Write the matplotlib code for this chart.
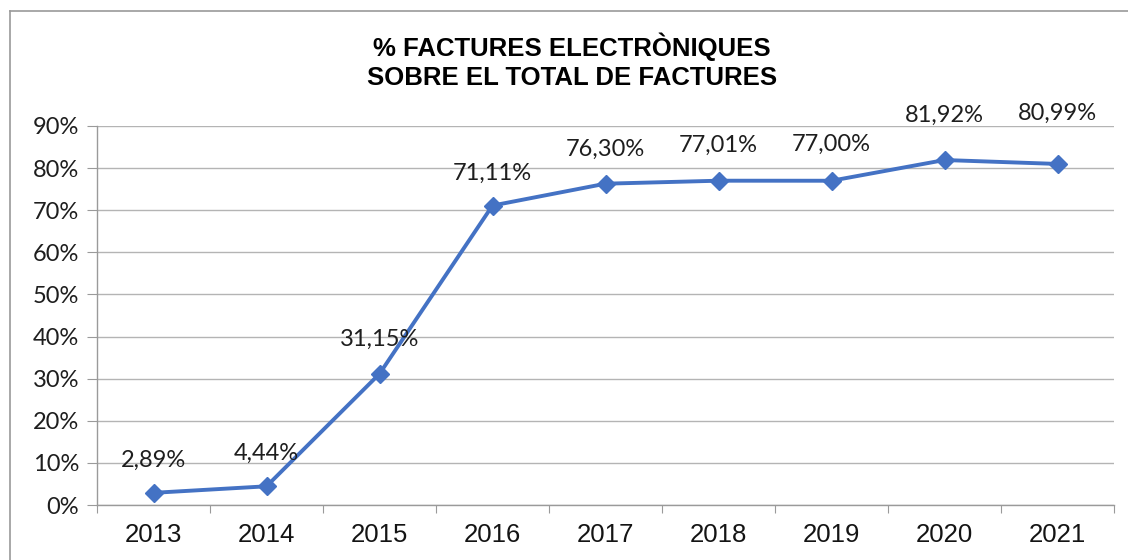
import matplotlib
matplotlib.use("Agg")
import matplotlib.pyplot as plt
from matplotlib.lines import Line2D
from matplotlib.ticker import FixedLocator, NullFormatter, FuncFormatter

years = ["2013", "2014", "2015", "2016", "2017", "2018", "2019", "2020", "2021"]
values = [2.89, 4.44, 31.15, 71.11, 76.30, 77.01, 77.00, 81.92, 80.99]
labels = ["2,89%", "4,44%", "31,15%", "71,11%", "76,30%", "77,01%", "77,00%", "81,92%", "80,99%"]
yticks = [0, 10, 20, 30, 40, 50, 60, 70, 80, 90]

W, H = 1128, 560
fig = plt.figure(figsize=(W / 100, H / 100), dpi=100)
fig.patch.set_facecolor("white")

# outer chart border (left + top visible)
fig.add_artist(Line2D([10 / W, 10 / W], [0, 1 - 11 / H], transform=fig.transFigure, color="#9a9a9a", lw=1.2))
fig.add_artist(Line2D([10 / W, 1], [1 - 11 / H, 1 - 11 / H], transform=fig.transFigure, color="#9a9a9a", lw=1.2))

left, right, top, bottom = 97, 1114, 126, 505
ax = fig.add_axes([left / W, 1 - bottom / H, (right - left) / W, (bottom - top) / H])

x = list(range(len(years)))
ax.plot(x, values, color="#4472C4", lw=2.8, marker="D", markersize=9, zorder=3)
# label offsets above each point (pixels), as placed in the original
label_offsets_px = [32, 33, 34, 32, 34, 35, 36, 45, 51]
for xi, v, lab, off in zip(x, values, labels, label_offsets_px):
    ax.annotate(lab, (xi, v), xytext=(0, off * 0.72), textcoords="offset points",
                ha="center", va="center", fontsize=17, family="Lato", color="#1e1e1e")

ax.set_xlim(-0.5, len(years) - 0.5)
ax.set_ylim(0, 90)
ax.set_yticks(yticks)
ax.yaxis.set_major_formatter(FuncFormatter(lambda v, p: f"{int(v)}%"))
ax.grid(axis="y", color="#b4b4b4", lw=1)
ax.set_axisbelow(True)

ax.xaxis.set_major_locator(FixedLocator([i - 0.5 for i in range(len(years) + 1)]))
ax.xaxis.set_major_formatter(NullFormatter())
ax.xaxis.set_minor_locator(FixedLocator(x))
ax.set_xticklabels(years, minor=True)
ax.tick_params(axis="x", which="major", length=6, color="#9a9a9a", direction="out")
ax.tick_params(axis="x", which="minor", length=0, pad=13, labelsize=18.5, labelcolor="#141414")
for t in ax.get_xticklabels(minor=True):
    t.set_family("Liberation Sans")
ax.tick_params(axis="y", length=7, color="#9a9a9a", pad=6, labelsize=17, labelcolor="#1e1e1e")
for t in ax.get_yticklabels():
    t.set_family("Lato")

for s in ["top", "right"]:
    ax.spines[s].set_visible(False)
for s in ["left", "bottom"]:
    ax.spines[s].set_color("#9a9a9a")
    ax.spines[s].set_linewidth(1)

fig.text(572 / W, 1 - 47 / H, "% FACTURES ELECTRÒNIQUES", ha="center", va="center",
         fontsize=18.5, fontweight="bold", family="Liberation Sans", color="#000000")
fig.text(572 / W, 1 - 78 / H, "SOBRE EL TOTAL DE FACTURES", ha="center", va="center",
         fontsize=18.5, fontweight="bold", family="Liberation Sans", color="#000000")

fig.savefig("out.png", dpi=100)
